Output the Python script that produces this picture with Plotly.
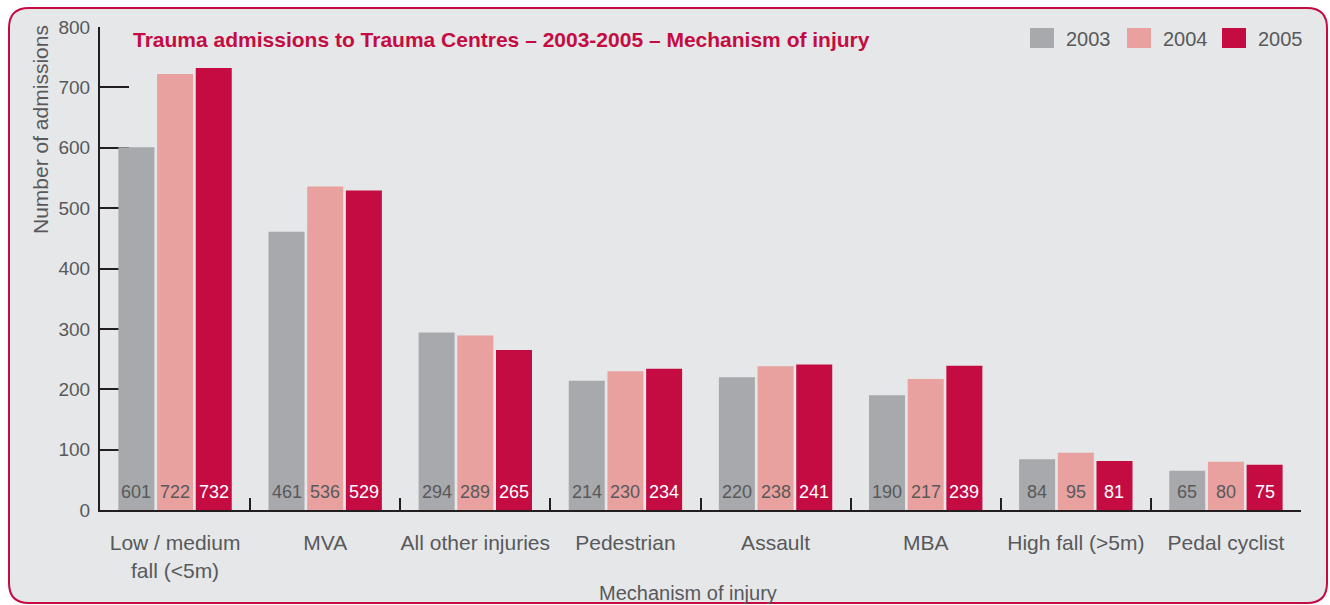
import plotly.graph_objects as go

categories = ["Low / medium<br>fall (<5m)", "MVA", "All other injuries", "Pedestrian",
              "Assault", "MBA", "High fall (>5m)", "Pedal cyclist"]
years = ["2003", "2004", "2005"]
values_2003 = [601, 461, 294, 214, 220, 190, 84, 65]
values_2004 = [722, 536, 289, 230, 238, 217, 95, 80]
values_2005 = [732, 529, 265, 234, 241, 239, 81, 75]
y_ticks = [0, 100, 200, 300, 400, 500, 600, 700, 800]

title_text = "Trauma admissions to Trauma Centres – 2003-2005 – Mechanism of injury"
y_title = "Number of admissions"
x_title = "Mechanism of injury"

colors = ["#a7a9ac", "#e8a19e", "#c40c43"]
label_colors = ["#58595b", "#58595b", "#ffffff"]
crimson = "#c40c43"
text_gray = "#58595b"
FONT = "Liberation Sans, Arial, Helvetica, sans-serif"

W, H = 1330, 605
L, R, T, B = 100, 1301, 27, 510  # plot area in pixels


def px_x(p):
    return (p - L) / (R - L)


def px_y(p):
    return (B - p) / (B - T)


series = [values_2003, values_2004, values_2005]

fig = go.Figure()
for name, vals, col in zip(years, series, colors):
    fig.add_trace(go.Bar(
        x=categories, y=vals, name=name,
        marker=dict(color=col, line=dict(width=0)),
        showlegend=False,
        hoverinfo="x+y",
    ))

shapes = []
# rounded frame
x0, y0, x1, y1, r = 9, 8, 1327, 603, 20
rx, ry = r / (R - L), r / (B - T)
X0, X1 = px_x(x0), px_x(x1)
Y0, Y1 = px_y(y1), px_y(y0)  # bottom, top in paper
path = (f"M {X0+rx},{Y1} L {X1-rx},{Y1} Q {X1},{Y1} {X1},{Y1-ry} "
        f"L {X1},{Y0+ry} Q {X1},{Y0} {X1-rx},{Y0} "
        f"L {X0+rx},{Y0} Q {X0},{Y0} {X0},{Y0+ry} "
        f"L {X0},{Y1-ry} Q {X0},{Y1} {X0+rx},{Y1} Z")
shapes.append(dict(type="path", path=path, xref="paper", yref="paper",
                   fillcolor="#e6e7e8", line=dict(color=crimson, width=2), layer="below"))

annotations = []
# value labels at the base of each bar
slot_px = (R - L) / len(categories) * (1 - 0.227) / len(years)
for j, (vals, lcol) in enumerate(zip(series, label_colors)):
    for cat, v in zip(categories, vals):
        annotations.append(dict(
            text=str(v), x=cat, y=0, xref="x", yref="y",
            xshift=(j - (len(years) - 1) / 2) * slot_px, yshift=18,
            xanchor="center", yanchor="middle", showarrow=False,
            font=dict(family=FONT, size=18, color=lcol)))

# custom legend
leg_sq_x = [1030, 1127, 1222]
for yr, col, sx in zip(years, colors, leg_sq_x):
    shapes.append(dict(type="rect", xref="paper", yref="paper",
                       x0=px_x(sx), x1=px_x(sx + 24), y0=px_y(48), y1=px_y(28),
                       fillcolor=col, line=dict(width=0), layer="above"))
    annotations.append(dict(text=yr, xref="paper", yref="paper", x=px_x(sx + 34), y=px_y(39),
                            xanchor="left", yanchor="middle", showarrow=False,
                            font=dict(family=FONT, size=20, color=text_gray)))

annotations.append(dict(text=f"<b>{title_text}</b>", xref="paper", yref="paper",
                        x=px_x(131), y=px_y(39), xanchor="left", yanchor="middle", showarrow=False,
                        font=dict(family=FONT, size=21, color=crimson)))
annotations.append(dict(text=y_title, xref="paper", yref="paper", textangle=-90,
                        x=px_x(40), y=px_y(130), xanchor="center", yanchor="middle", showarrow=False,
                        font=dict(family=FONT, size=21, color=text_gray)))
annotations.append(dict(text=x_title, xref="paper", yref="paper",
                        x=px_x(688), y=px_y(593), xanchor="center", yanchor="middle", showarrow=False,
                        font=dict(family=FONT, size=20, color=text_gray)))

fig.update_layout(
    width=W, height=H,
    margin=dict(l=L, r=W - R, t=T, b=H - B, pad=0, autoexpand=False),
    paper_bgcolor="white", plot_bgcolor="rgba(0,0,0,0)",
    barmode="group", bargap=0.227, bargroupgap=0.069,
    font=dict(family=FONT, color=text_gray),
    shapes=shapes, annotations=annotations,
    showlegend=False,
)
fig.update_xaxes(
    type="category", showgrid=False, zeroline=False, automargin=False,
    showline=True, linecolor="#231f20", linewidth=2,
    ticks="inside", tickson="boundaries", ticklen=12, tickwidth=2, tickcolor="#231f20",
    tickfont=dict(family=FONT, size=21, color=text_gray), tickangle=0,
    ticklabelstandoff=13,
    layer="below traces",
)
fig.update_yaxes(
    range=[0, 800], tickvals=y_ticks, showgrid=False, zeroline=False, automargin=False,
    showline=True, linecolor="#231f20", linewidth=2,
    ticks="inside", ticklen=29, tickwidth=2, tickcolor="#231f20",
    tickfont=dict(family=FONT, size=19, color=text_gray),
    ticklabelstandoff=4,
    layer="below traces",
)

fig.write_html("out.html", config={"displayModeBar": False},
               post_script="document.body.style.margin='0px';")
